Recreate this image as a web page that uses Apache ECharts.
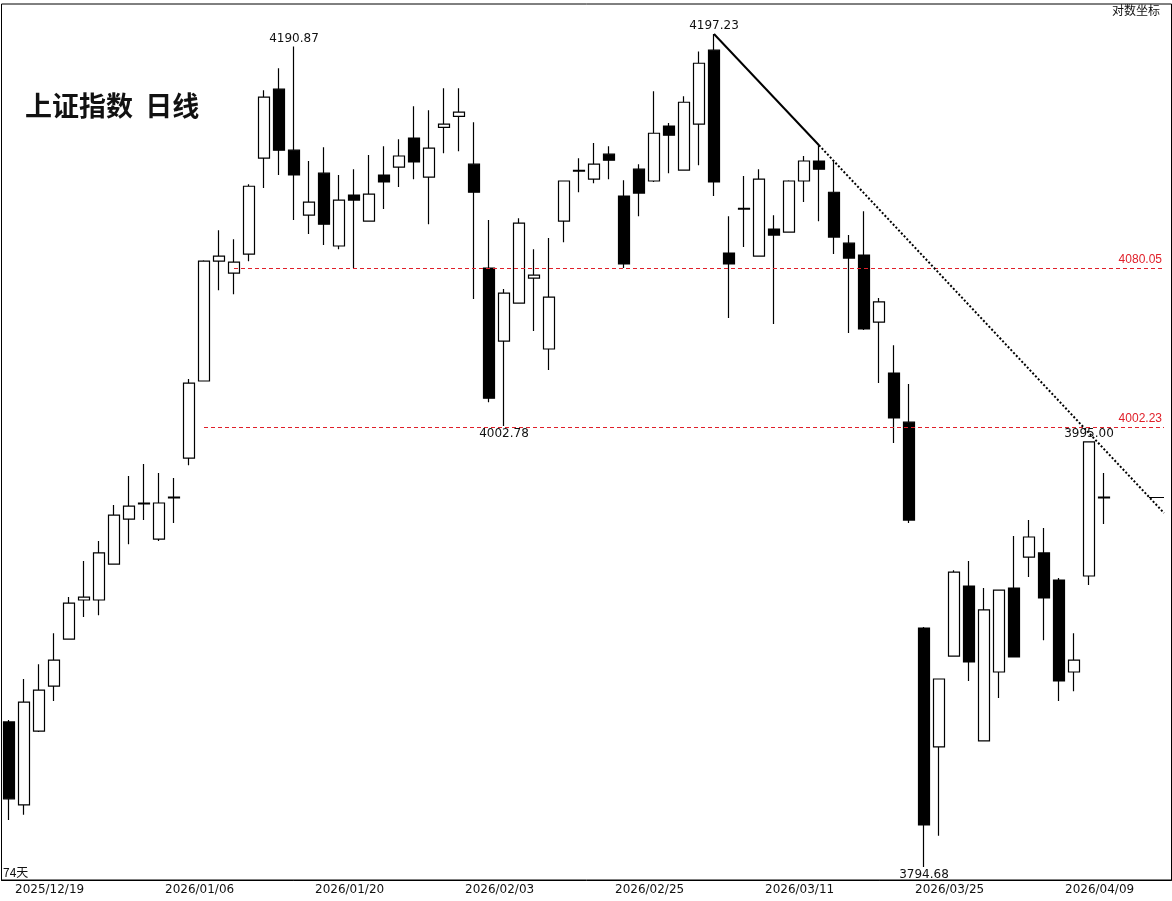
<!DOCTYPE html>
<html>
<head>
<meta charset="utf-8">
<script src="https://cdn.jsdelivr.net/npm/echarts@6/dist/echarts.min.js"></script>
<style>
  html, body { margin: 0; padding: 0; background: #fff; }
  #main { width: 1172px; height: 901px; }
</style>
</head>
<body>
<div id="main"></div>
<script>
// trading days, 2025/12/19 .. 2026/04/14, plus blank slots at the right edge
var dates = [
    '2025/12/19', '2025/12/22', '2025/12/23', '2025/12/24', '2025/12/25', '2025/12/26',
    '2025/12/29', '2025/12/30', '2025/12/31', '2026/01/05', '2026/01/06', '2026/01/07',
    '2026/01/08', '2026/01/09', '2026/01/12', '2026/01/13', '2026/01/14', '2026/01/15',
    '2026/01/16', '2026/01/19', '2026/01/20', '2026/01/21', '2026/01/22', '2026/01/23',
    '2026/01/26', '2026/01/27', '2026/01/28', '2026/01/29', '2026/01/30', '2026/02/02',
    '2026/02/03', '2026/02/04', '2026/02/05', '2026/02/06', '2026/02/09', '2026/02/10',
    '2026/02/11', '2026/02/12', '2026/02/13', '2026/02/24', '2026/02/25', '2026/02/26',
    '2026/02/27', '2026/03/02', '2026/03/03', '2026/03/04', '2026/03/05', '2026/03/06',
    '2026/03/09', '2026/03/10', '2026/03/11', '2026/03/12', '2026/03/13', '2026/03/16',
    '2026/03/17', '2026/03/18', '2026/03/19', '2026/03/20', '2026/03/23', '2026/03/24',
    '2026/03/25', '2026/03/26', '2026/03/27', '2026/03/30', '2026/03/31', '2026/04/01',
    '2026/04/02', '2026/04/03', '2026/04/07', '2026/04/08', '2026/04/09', '2026/04/10',
    '2026/04/13', '2026/04/14', '', '', '', ''
];

var opens = [
    3861.9, 3823.3, 3857.6, 3878.7, 3900.8, 3919.3, 3919.3, 3936.4, 3957.9, 3965.6,
    3948.3, 3968.4, 3987.2, 4024.6, 4083.4, 4077.5, 4086.9, 4134.6, 4169.3, 4138.6,
    4106.2, 4127.1, 4090.9, 4116.2, 4103.2, 4126.2, 4130.1, 4144.7, 4125.1, 4150.1,
    4155.6, 4131.6, 4080.0, 4044.1, 4062.7, 4075.0, 4040.2, 4103.2, 4128.1, 4124.1,
    4136.6, 4115.7, 4129.1, 4123.2, 4150.7, 4128.6, 4151.7, 4189.0, 4087.4, 4109.2,
    4085.9, 4099.3, 4097.8, 4123.2, 4133.2, 4117.6, 4092.3, 4086.4, 4053.4, 4028.5,
    4004.6, 3906.0, 3850.2, 3892.8, 3925.9, 3853.0, 3885.3, 3925.0, 3939.7, 3941.7,
    3928.8, 3885.3, 3930.7, 3968.0
];
var closes = [
    3826.1, 3871.2, 3876.8, 3890.9, 3917.8, 3920.7, 3941.7, 3959.8, 3964.1, 3965.2,
    3965.6, 3968.0, 4023.6, 4083.4, 4085.9, 4082.9, 4120.6, 4165.3, 4138.6, 4126.2,
    4112.7, 4101.7, 4113.7, 4113.7, 4116.7, 4122.7, 4135.7, 4132.7, 4139.6, 4151.7,
    4157.7, 4117.6, 4016.2, 4067.6, 4102.2, 4076.5, 4065.7, 4123.2, 4128.5, 4131.6,
    4133.6, 4082.0, 4117.2, 4147.1, 4146.1, 4162.7, 4182.4, 4122.7, 4082.0, 4109.6,
    4124.1, 4096.3, 4123.2, 4133.2, 4129.1, 4095.3, 4084.9, 4050.0, 4063.3, 4006.6,
    3957.4, 3814.0, 3882.0, 3932.6, 3890.0, 3914.6, 3924.0, 3892.4, 3949.3, 3920.3,
    3881.1, 3890.9, 3995.0, 3968.4
];
var lows = [
    3816.3, 3818.7, 3857.2, 3871.7, 3900.8, 3911.3, 3912.1, 3936.4, 3945.9, 3957.4,
    3947.4, 3956.0, 3983.8, 4024.6, 4069.1, 4067.1, 4083.4, 4119.7, 4126.2, 4103.8,
    4096.8, 4091.4, 4089.3, 4080.0, 4103.2, 4109.2, 4120.2, 4124.1, 4101.7, 4137.1,
    4138.1, 4064.7, 4014.3, 4002.78, 4062.7, 4049.0, 4029.9, 4092.8, 4117.6, 4122.1,
    4124.1, 4080.0, 4105.7, 4122.7, 4127.1, 4128.6, 4131.1, 4115.7, 4055.4, 4090.4,
    4085.9, 4052.4, 4097.8, 4112.7, 4103.2, 4086.9, 4048.0, 4049.5, 4023.6, 3994.5,
    3956.0, 3794.68, 3809.0, 3892.8, 3881.1, 3853.0, 3873.1, 3892.4, 3930.2, 3900.3,
    3871.7, 3876.3, 3926.4, 3955.5
];
var highs = [
    3862.8, 3882.0, 3889.0, 3903.6, 3920.7, 3937.8, 3947.4, 3964.6, 3978.6, 3984.3,
    3980.0, 3977.6, 4025.6, 4083.9, 4098.7, 4094.3, 4121.6, 4168.7, 4179.9, 4190.87,
    4133.2, 4140.1, 4126.2, 4129.1, 4136.2, 4140.6, 4144.1, 4160.7, 4158.7, 4169.8,
    4169.8, 4152.6, 4103.8, 4069.6, 4104.7, 4089.3, 4094.8, 4123.2, 4134.6, 4142.2,
    4140.6, 4123.6, 4131.6, 4168.3, 4152.2, 4165.7, 4188.4, 4197.23, 4105.7, 4125.7,
    4129.1, 4106.2, 4123.6, 4135.7, 4141.1, 4133.6, 4096.3, 4108.2, 4065.2, 4042.1,
    4023.1, 3906.5, 3882.0, 3933.5, 3937.8, 3925.0, 3924.0, 3949.8, 3957.4, 3953.6,
    3929.8, 3903.6, 3995.0, 3980.0
];

// horizontal support levels and the falling trend line
var levels = [4080.05, 4002.23];
var levelStart = [15, 13];
var trendStart = [47, 4197.23];
var trendTouch = [54, 4141.1];
var trendEnd = [77, 3960.8];

var kdata = [];
for (var i = 0; i < dates.length; i++) {
    if (i < opens.length) {
        kdata.push([opens[i], closes[i], lows[i], highs[i]]);
    } else {
        kdata.push(['-', '-', '-', '-']);
    }
}

var red = '#e0202a';
var lines = [];
for (var j = 0; j < levels.length; j++) {
    lines.push([
        { coord: [levelStart[j], levels[j]], lineStyle: { color: red, type: [4, 3], width: 1, opacity: 1 } },
        {
            coord: [dates.length - 1, levels[j]],
            label: { show: true, position: 'insideEndTop', formatter: levels[j].toFixed(2), color: red, fontSize: 12, distance: 2 }
        }
    ]);
}
lines.push([
    { coord: trendStart, lineStyle: { color: '#000', type: 'solid', width: 2 } },
    { coord: trendTouch }
]);
lines.push([
    { coord: trendTouch, lineStyle: { color: '#000', type: [2, 2], width: 2 } },
    { coord: trendEnd }
]);
lines.push([
    { coord: [76, closes[73]], lineStyle: { color: '#000', type: 'solid', width: 1 } },
    { coord: [77, closes[73]] }
]);

function mark(idx, val, pos) {
    return {
        coord: [idx, val], value: val.toFixed(2),
        label: { show: true, position: pos, distance: 2, color: '#111', fontSize: 12, fontFamily: 'DejaVu Sans' }
    };
}

var myChart = echarts.init(document.getElementById('main'));
var option = {
    animation: false,
    backgroundColor: '#fff',
    graphic: [
        { type: 'text', left: 25, top: 92, style: { text: '上证指数  日线', font: 'bold 27px "Noto Sans CJK SC"', fill: '#111' } },
        { type: 'text', left: 3, top: 866, style: { text: '74天', font: '12px "Noto Sans CJK SC"', fill: '#111' } },
        { type: 'text', right: 12, top: 4, style: { text: '对数坐标', font: '12px "Noto Sans CJK SC"', fill: '#111' } }
    ],
    grid: { left: 1.5, top: 4, width: 1170, height: 876, show: true, borderColor: '#000', borderWidth: 1, backgroundColor: 'transparent' },
    xAxis: {
        type: 'category',
        data: dates,
        boundaryGap: true,
        axisLine: { show: true, lineStyle: { color: '#000' } },
        axisTick: { show: false },
        axisLabel: {
            interval: 9, align: 'left', margin: 4, padding: [0, 0, 0, 6], color: '#111', fontSize: 12, fontFamily: 'DejaVu Sans'
        },
        splitLine: { show: false }
    },
    yAxis: {
        type: 'log',
        logBase: 10,
        min: 3788.7,
        max: 4212.5,
        axisLine: { show: false },
        axisTick: { show: false },
        axisLabel: { show: false },
        splitLine: { show: false }
    },
    series: [{
        type: 'candlestick',
        data: kdata,
        barWidth: 11,
        itemStyle: {
            color: '#fff',
            color0: '#000',
            borderColor: '#000',
            borderColor0: '#000',
            borderWidth: 1.2
        },
        markLine: {
            silent: true,
            symbol: ['none', 'none'],
            label: { show: false },
            emphasis: { disabled: true },
            data: lines
        },
        markPoint: {
            symbol: 'circle',
            symbolSize: 0,
            data: [
                mark(19, 4190.87, 'top'),
                mark(47, 4197.23, 'top'),
                mark(33, 4002.78, 'bottom'),
                mark(61, 3794.68, 'bottom'),
                mark(72, 3995.00, 'top')
            ]
        }
    }]
};
myChart.setOption(option, true);
</script>
</body>
</html>
